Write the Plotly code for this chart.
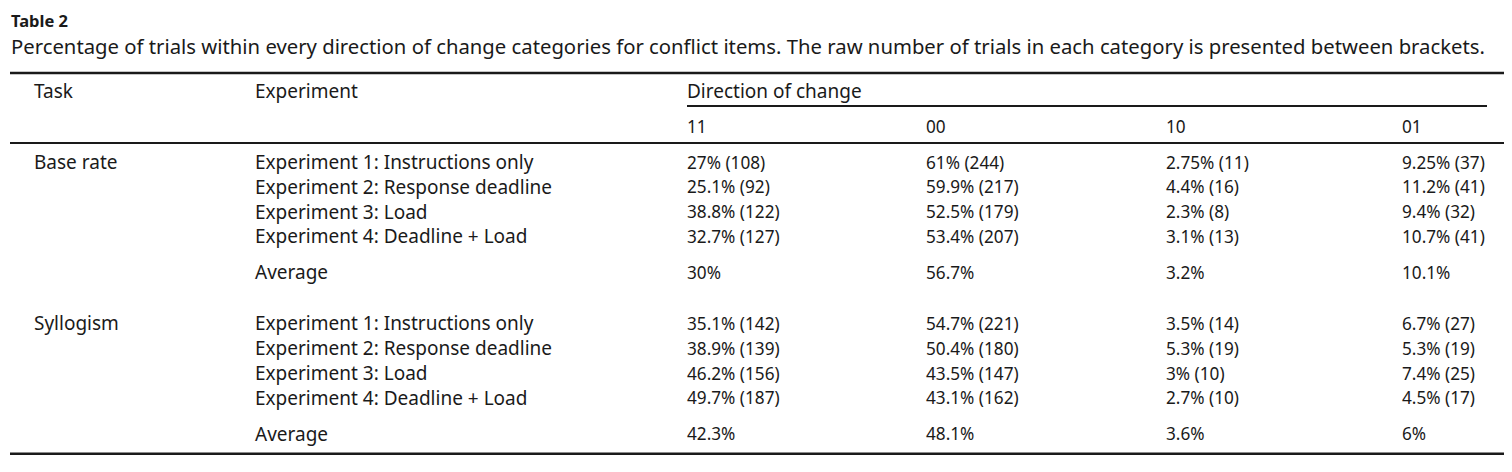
import plotly.graph_objects as go

# ---------------- data ----------------
title_text = "Table 2"
caption_text = ("Percentage of trials within every direction of change categories for conflict items. "
                "The raw number of trials in each category is presented between brackets.")
header_task = "Task"
header_experiment = "Experiment"
header_direction = "Direction of change"
directions = ["11", "00", "10", "01"]
tasks = ["Base rate", "Syllogism"]
experiments = ["Experiment 1: Instructions only", "Experiment 2: Response deadline",
               "Experiment 3: Load", "Experiment 4: Deadline + Load"]
average_label = "Average"

base_rate_pct = [[27, 61, 2.75, 9.25],
                 [25.1, 59.9, 4.4, 11.2],
                 [38.8, 52.5, 2.3, 9.4],
                 [32.7, 53.4, 3.1, 10.7]]
base_rate_n = [[108, 244, 11, 37],
               [92, 217, 16, 41],
               [122, 179, 8, 32],
               [127, 207, 13, 41]]
base_rate_avg = [30, 56.7, 3.2, 10.1]

syllogism_pct = [[35.1, 54.7, 3.5, 6.7],
                 [38.9, 50.4, 5.3, 5.3],
                 [46.2, 43.5, 3, 7.4],
                 [49.7, 43.1, 2.7, 4.5]]
syllogism_n = [[142, 221, 14, 27],
               [139, 180, 19, 19],
               [156, 147, 10, 25],
               [187, 162, 10, 17]]
syllogism_avg = [42.3, 48.1, 3.6, 6]

# ---------------- layout (positions / styles) ----------------
W, H = 1512, 472
FONT = "Noto Sans"
FS_TEXT = 19
FS_NUM = 17.2
COLOR = "#1a1a1a"
col_task_x = 24
col_exp_x = 245
col_dir_x = [677, 916, 1156, 1392]
y_title, y_caption = 12, 38
y_top_rule, y_head, y_dir_line, y_sub, y_head_rule = 65, 83, 98, 118, 135
first_row_gap = 19
row_step = 24.8
avg_gap = 36
block_gap = 51
y_bottom_rule_pad = 20

fig = go.Figure()
ann = []


def add_text(x, y, s, bold=False, size=FS_TEXT):
    ann.append(dict(x=x, y=y, xref="x", yref="y", text=(f"<b>{s}</b>" if bold else s),
                    showarrow=False, xanchor="left", yanchor="middle",
                    font=dict(family=FONT, size=size, color=COLOR)))


def fmt(p, n=None):
    t = f"{p:g}%"
    if n is not None:
        t += f" ({n})"
    return t


add_text(1, y_title, title_text, bold=True, size=16.5)
add_text(1, y_caption, caption_text, size=20.3)
add_text(col_task_x, y_head, header_task)
add_text(col_exp_x, y_head, header_experiment)
add_text(col_dir_x[0], y_head, header_direction)
for cx, d in zip(col_dir_x, directions):
    add_text(cx, y_sub, d, size=FS_NUM)

blocks = [(tasks[0], base_rate_pct, base_rate_n, base_rate_avg),
          (tasks[1], syllogism_pct, syllogism_n, syllogism_avg)]
y = y_head_rule + first_row_gap
last_y = y
for bi, (task, pct, nn, avg) in enumerate(blocks):
    add_text(col_task_x, y, task)
    for ri, exp in enumerate(experiments):
        add_text(col_exp_x, y, exp)
        for ci, cx in enumerate(col_dir_x):
            add_text(cx, y, fmt(pct[ri][ci], nn[ri][ci]), size=FS_NUM)
        if ri < len(experiments) - 1:
            y += row_step
    y += avg_gap
    add_text(col_exp_x, y, average_label)
    for ci, cx in enumerate(col_dir_x):
        add_text(cx, y, fmt(avg[ci]), size=FS_NUM)
    last_y = y
    y += block_gap

y_bottom_rule = last_y + y_bottom_rule_pad

shapes = [
    dict(type="line", xref="x", yref="y", x0=2, x1=1509, y0=y_top_rule, y1=y_top_rule,
         line=dict(color=COLOR, width=2.5)),
    dict(type="line", xref="x", yref="y", x0=679, x1=1479, y0=y_dir_line, y1=y_dir_line,
         line=dict(color=COLOR, width=1.8)),
    dict(type="line", xref="x", yref="y", x0=2, x1=1509, y0=y_head_rule, y1=y_head_rule,
         line=dict(color=COLOR, width=1.8)),
    dict(type="line", xref="x", yref="y", x0=2, x1=1509, y0=y_bottom_rule, y1=y_bottom_rule,
         line=dict(color=COLOR, width=2.5)),
]

fig.update_layout(
    width=W, height=H,
    margin=dict(l=0, r=0, t=0, b=0),
    paper_bgcolor="white", plot_bgcolor="white",
    xaxis=dict(range=[0, W], visible=False, fixedrange=True),
    yaxis=dict(range=[H, 0], visible=False, fixedrange=True),
    annotations=ann, shapes=shapes, showlegend=False,
)
fig.write_html("out.html")
